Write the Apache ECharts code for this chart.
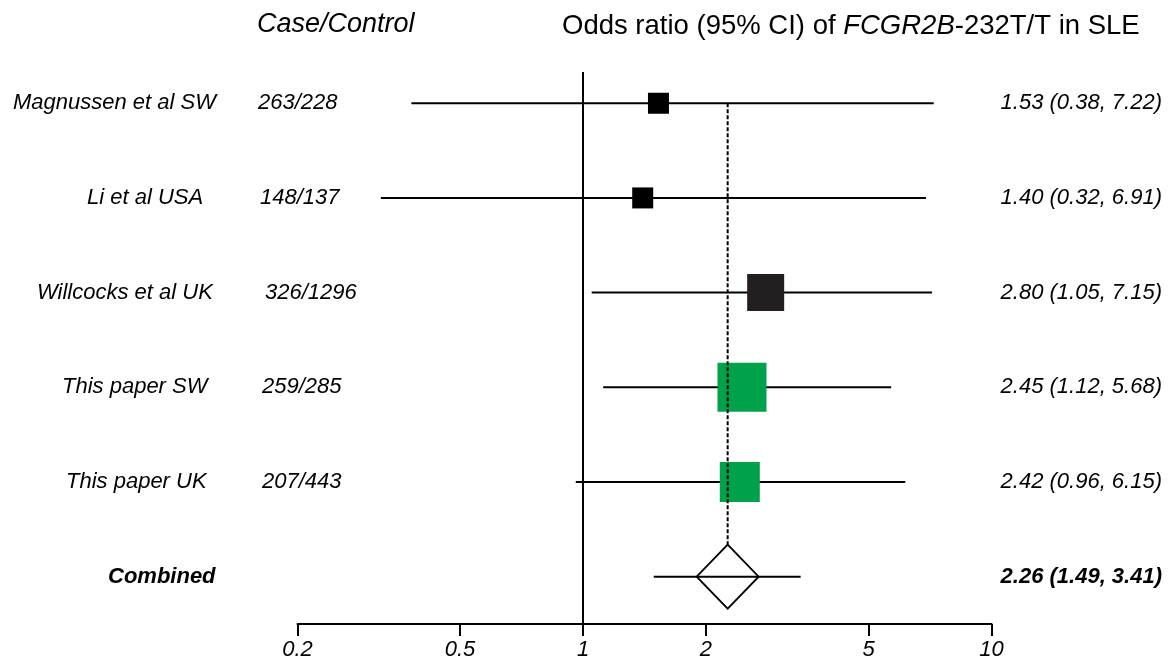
<!DOCTYPE html>
<html>
<head>
<meta charset="utf-8">
<title>FCGR2B-232T/T forest plot</title>
<script src="https://cdn.jsdelivr.net/npm/echarts@6/dist/echarts.min.js"></script>
<style>
  html, body { margin: 0; padding: 0; background: #fff; }
  #chart { width: 1170px; height: 661px; }
</style>
</head>
<body>
<div id="chart"></div>
<script>
// rows, top to bottom
const studies = ['Magnussen et al SW', 'Li et al USA', 'Willcocks et al UK', 'This paper SW', 'This paper UK', 'Combined'];
const caseControl = ['263/228', '148/137', '326/1296', '259/285', '207/443', ''];
const oddsRatio = [1.53, 1.40, 2.80, 2.45, 2.42, 2.26];
const ciLow = [0.38, 0.32, 1.05, 1.12, 0.96, 1.49];
const ciHigh = [7.22, 6.91, 7.15, 5.68, 6.15, 3.41];
const xTicks = [0.2, 0.5, 1, 2, 5, 10];

// drawing style per row (box side px, fill, text x)
const boxSize = [21, 21, 37, 49, 40, 0];
const boxColor = ['#000', '#000', '#231f20', '#00a14b', '#00a14b', null];
const nameX = [13, 87, 37, 62, 66, 108];
const ccX = [258, 260, 265, 262, 262, 0];

const FONT = '"Liberation Sans", Arial, sans-serif';
const lastRow = studies.length - 1;

function fmt(v) {
  return v.toFixed(2);
}

function renderRow(params, api) {
  const i = api.value(0);
  const est = api.value(1);
  const p = api.coord([est, i]);
  const pl = api.coord([api.value(2), i]);
  const ph = api.coord([api.value(3), i]);
  const y = p[1];
  const total = i === lastRow;
  const children = [];

  children.push({
    type: 'line',
    shape: { x1: pl[0], y1: y, x2: ph[0], y2: y },
    style: { stroke: '#000', lineWidth: 2 },
  });

  if (total) {
    const hw = 31, hh = 32;
    children.push({
      type: 'polygon',
      shape: { points: [[p[0] - hw, y], [p[0], y - hh], [p[0] + hw, y], [p[0], y + hh]] },
      style: { fill: 'none', stroke: '#000', lineWidth: 1.8 },
    });
    // dashed line at the pooled estimate, from first row down to the diamond
    const top = api.coord([est, 0]);
    children.push({
      type: 'line',
      shape: { x1: p[0], y1: top[1], x2: p[0], y2: y - hh },
      style: { stroke: '#000', lineWidth: 2, lineDash: [4, 2] },
    });
  } else {
    const s = boxSize[i];
    children.push({
      type: 'rect',
      shape: { x: p[0] - s / 2, y: y - s / 2, width: s, height: s },
      style: { fill: boxColor[i] },
    });
  }

  const weight = total ? 'bold' : 'normal';
  children.push({
    type: 'text',
    style: {
      text: studies[i], x: nameX[i], y: y, align: 'left', verticalAlign: 'middle',
      fill: '#000', fontSize: 22, fontStyle: 'italic', fontWeight: weight, fontFamily: FONT,
    },
  });
  if (caseControl[i]) {
    children.push({
      type: 'text',
      style: {
        text: caseControl[i], x: ccX[i], y: y, align: 'left', verticalAlign: 'middle',
        fill: '#000', fontSize: 22, fontStyle: 'italic', fontFamily: FONT,
      },
    });
  }
  children.push({
    type: 'text',
    style: {
      text: fmt(oddsRatio[i]) + ' (' + fmt(ciLow[i]) + ', ' + fmt(ciHigh[i]) + ')',
      x: 1162, y: y, align: 'right', verticalAlign: 'middle',
      fill: '#000', fontSize: 22, fontStyle: 'italic', fontWeight: weight, fontFamily: FONT,
    },
  });

  return { type: 'group', children };
}

const chart = echarts.init(document.getElementById('chart'), null, { renderer: 'canvas' });

chart.setOption({
  animation: false,
  backgroundColor: '#fff',
  title: [
    {
      text: 'Case/Control',
      left: 257,
      top: 11,
      padding: 0,
      textStyle: { fontSize: 27, fontStyle: 'italic', fontWeight: 'normal', color: '#000', fontFamily: FONT },
    },
    {
      text: '{n|Odds ratio (95% CI) of }{i|FCGR2B}{n|-232T/T in SLE}',
      left: 562,
      top: 12,
      padding: 0,
      textStyle: {
        fontWeight: 'normal',
        rich: {
          n: { fontSize: 27.5, fontWeight: 'normal', color: '#000', fontFamily: FONT },
          i: { fontSize: 27.5, fontWeight: 'normal', fontStyle: 'italic', color: '#000', fontFamily: FONT },
        },
      },
    },
  ],
  grid: {
    left: 297.5,
    right: 178.5,
    top: 72,
    bottom: 37,
  },
  xAxis: {
    type: 'log',
    logBase: 10,
    min: 0.2,
    max: 10,
    position: 'bottom',
    axisLine: { show: true, onZero: false, lineStyle: { color: '#000', width: 2 } },
    axisTick: {
      show: true,
      length: 12,
      customValues: xTicks,
      lineStyle: { color: '#000', width: 2 },
    },
    axisLabel: {
      show: true,
      customValues: xTicks,
      margin: 15,
      color: '#000',
      fontSize: 22,
      fontStyle: 'italic',
      fontFamily: FONT,
      formatter(value) {
        return String(value);
      },
    },
    splitLine: { show: false },
    minorTick: { show: false },
  },
  yAxis: {
    type: 'value',
    min: -0.33,
    max: 5.5,
    inverse: true,
    show: false,
    splitLine: { show: false },
  },
  series: [
    {
      type: 'custom',
      renderItem: renderRow,
      encode: { x: [1, 2, 3], y: 0 },
      data: studies.map((_, i) => [i, oddsRatio[i], ciLow[i], ciHigh[i]]),
      silent: true,
      markLine: {
        silent: true,
        symbol: 'none',
        label: { show: false },
        lineStyle: { color: '#000', width: 2, type: 'solid' },
        data: [{ xAxis: 1 }],
      },
    },
  ],
});

window.addEventListener('resize', () => { chart.resize(); });
</script>
</body>
</html>
